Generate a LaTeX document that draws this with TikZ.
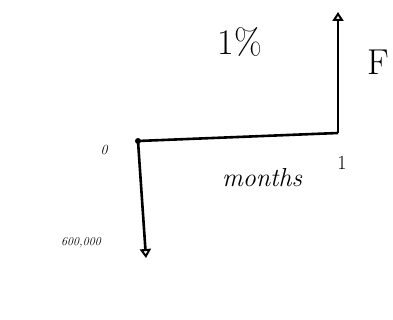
\documentclass[tikz,border=0pt]{standalone}
\usetikzlibrary{arrows.meta}
\begin{document}
\begin{tikzpicture}[x=1pt,y=-1pt,
  flow/.style={line width=2.6pt,-{Triangle[open,length=9pt,width=11pt,line width=2pt]}},
  axis/.style={line width=2.6pt},
  lbl/.style={inner sep=0pt,font=\itshape}]
\useasboundingbox (0,0) rectangle (393,320);
\coordinate (o) at (138,141);
\coordinate (e) at (338,133);
\coordinate (top) at (338,12);
\coordinate (bot) at (146,258);
\draw[axis] (o) -- (e);
\fill (o) circle (3pt);
\draw[flow] (e) -- (top);
\draw[flow] (o) -- (bot);
\node[lbl,font=\fontsize{14}{16}\selectfont\itshape] (zero) at (104,150) {0};
\node[lbl,font=\fontsize{20}{22}\selectfont] (one) at (342,163) {1};
\node[lbl,font=\fontsize{26}{28}\selectfont\itshape] (months) at (262,178) {months};
\node[lbl,font=\fontsize{36}{38}\selectfont] (rate) at (240,42) {1\%};
\node[lbl,font=\fontsize{36}{38}\selectfont] (f) at (378,62) {F};
\node[lbl,font=\fontsize{12}{14}\selectfont\itshape] (pv) at (81,243) {600,000};
\end{tikzpicture}
\end{document}
